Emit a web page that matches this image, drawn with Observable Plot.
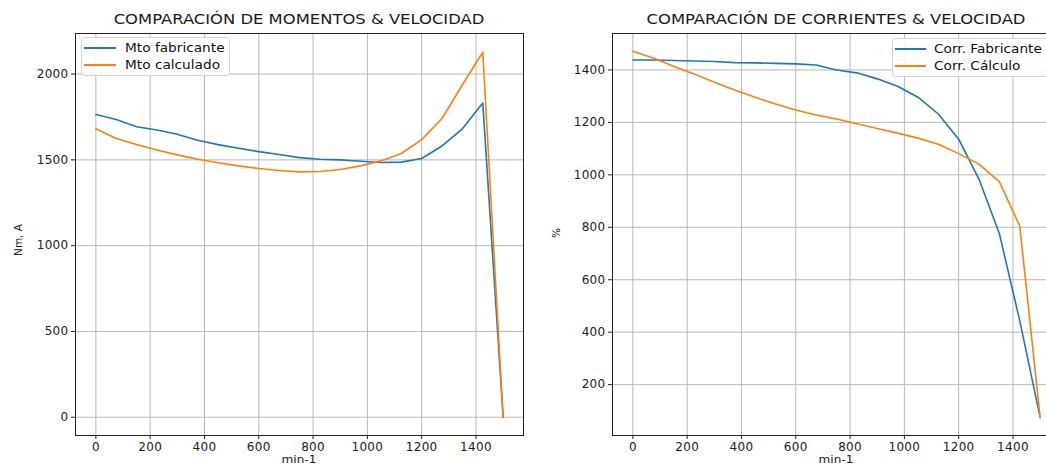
<!DOCTYPE html>
<html>
<head>
<meta charset="utf-8">
<script src="https://cdn.jsdelivr.net/npm/d3@7"></script>
<script src="https://cdn.jsdelivr.net/npm/@observablehq/plot@0.6"></script>
<style>
  html, body { margin: 0; padding: 0; width: 1046px; height: 465px; overflow: hidden; background: #fff; font-family: "DejaVu Sans", sans-serif; }
  #wrap { position: relative; width: 1046px; height: 465px; overflow: hidden; }
  .panel { position: absolute; top: 0; }
  .title { position: absolute; font-size: 14.5px; color: #1a1a1a; white-space: nowrap; transform: translateX(-50%) scaleX(1.13); }
  .xlabel { position: absolute; font-size: 11px; line-height: 11px; color: #222; white-space: nowrap; transform: translateX(-50%) scaleX(1.1); }
  .ylabel { position: absolute; font-size: 10.5px; color: #222; white-space: nowrap; transform: translate(-50%, -50%) rotate(-90deg); }
  .legend { position: absolute; background: rgba(255,255,255,0.85); border: 1px solid #d6d6d6; border-radius: 3px; padding: 2px 6px 2px 2px; font-size: 12px; color: #111; box-sizing: border-box; }
  .legend .row { display: flex; align-items: center; height: 16.7px; white-space: nowrap; }
  .legend .sw { height: 2px; flex: none; }
  .legend span { display: inline-block; transform-origin: left center; transform: scaleX(1.14); }
</style>
</head>
<body>
<div id="wrap"></div>
<script>
// ---- data ----
const speeds = [0, 75, 150, 225, 300, 375, 450, 525, 600, 675, 750, 825, 900, 975, 1050, 1125, 1200, 1275, 1350, 1425, 1500];
const mtoFabricante = [1764, 1735, 1693, 1674, 1649, 1614, 1589, 1568, 1548, 1531, 1513, 1504, 1500, 1492, 1485, 1487, 1508, 1581, 1681, 1832, 0];
const mtoCalculado  = [1681, 1624, 1589, 1558, 1529, 1504, 1483, 1465, 1450, 1438, 1430, 1432, 1444, 1465, 1494, 1537, 1618, 1741, 1938, 2127, 0];
const corrFabricante = [1438, 1438, 1436, 1434, 1432, 1428, 1427, 1425, 1423, 1419, 1400, 1389, 1366, 1338, 1296, 1232, 1136, 983, 775, 443, 75];
const corrCalculo    = [1471, 1446, 1414, 1385, 1353, 1324, 1296, 1270, 1247, 1228, 1213, 1195, 1177, 1159, 1140, 1117, 1081, 1041, 973, 805, 75];
const xTicks = [0, 200, 400, 600, 800, 1000, 1200, 1400];
const yTicksLeft = [0, 500, 1000, 1500, 2000];
const yTicksRight = [200, 400, 600, 800, 1000, 1200, 1400];
const leftTitle = "COMPARACIÓN DE MOMENTOS & VELOCIDAD";
const rightTitle = "COMPARACIÓN DE CORRIENTES & VELOCIDAD";
const leftSeries = ["Mto fabricante", "Mto calculado"];
const rightSeries = ["Corr. Fabricante", "Corr. Cálculo"];
const colors = ["#1f77b4", "#ff7f0e"];

function toRows(a, b) {
  return speeds.map((s, i) => ({speed: s, a: a[i], b: b[i]}));
}

function makePlot({rows, yDomain, yTicks, marginLeft, width}) {
  return Plot.plot({
    width, height: 465,
    marginTop: 33, marginBottom: 30, marginLeft, marginRight: 7,
    style: {fontFamily: "DejaVu Sans, sans-serif", fontSize: "12px", color: "#222", background: "transparent", letterSpacing: "0.3px"},
    x: {domain: [-75, 1575], label: null},
    y: {domain: yDomain, label: null},
    marks: [
      Plot.gridX(xTicks, {stroke: "#b0b0b0", strokeOpacity: 1, strokeWidth: 0.9}),
      Plot.gridY(yTicks, {stroke: "#b0b0b0", strokeOpacity: 1, strokeWidth: 0.9}),
      Plot.line(rows, {x: "speed", y: "a", stroke: colors[0], strokeWidth: 1.6}),
      Plot.line(rows, {x: "speed", y: "b", stroke: colors[1], strokeWidth: 1.6}),
      Plot.frame({stroke: "#222", strokeWidth: 1}),
      Plot.axisX(xTicks, {tickSize: 4, tickPadding: 3, label: null, stroke: "#222", tickFormat: d => String(d)}),
      Plot.axisY(yTicks, {tickSize: 4, tickPadding: 3, label: null, stroke: "#222", tickFormat: d => String(d)})
    ]
  });
}

const wrap = document.getElementById("wrap");

// left panel
const left = makePlot({rows: toRows(mtoFabricante, mtoCalculado), yDomain: [-106.5, 2236.5], yTicks: yTicksLeft, marginLeft: 75, width: 530});
left.classList.add("panel");
left.style.left = "0px";
wrap.appendChild(left);

// right panel
const right = makePlot({rows: toRows(corrFabricante, corrCalculo), yDomain: [6, 1539], yTicks: yTicksRight, marginLeft: 72, width: 527});
right.classList.add("panel");
right.style.left = "540px";
wrap.appendChild(right);

function addDiv(cls, text, styles) {
  const d = document.createElement("div");
  d.className = cls;
  d.textContent = text;
  Object.assign(d.style, styles);
  wrap.appendChild(d);
  return d;
}
addDiv("title", leftTitle, {left: "299px", top: "11px"});
addDiv("title", rightTitle, {left: "836px", top: "11px"});
addDiv("xlabel", "min-1", {left: "299px", top: "454px"});
addDiv("xlabel", "min-1", {left: "836px", top: "454px"});
addDiv("ylabel", "Nm, A", {left: "18px", top: "240px"});
addDiv("ylabel", "%", {left: "556px", top: "233px"});

function addLegend(names, styles, swW, gap) {
  const lg = document.createElement("div");
  lg.className = "legend";
  Object.assign(lg.style, styles);
  names.forEach((n, i) => {
    const r = document.createElement("div");
    r.className = "row";
    const sw = document.createElement("div");
    sw.className = "sw";
    sw.style.background = colors[i];
    sw.style.width = swW + "px";
    sw.style.marginRight = gap + "px";
    const t = document.createElement("span");
    t.textContent = n;
    r.appendChild(sw); r.appendChild(t);
    lg.appendChild(r);
  });
  wrap.appendChild(lg);
}
addLegend(leftSeries, {left: "81px", top: "37px", width: "149px"}, 32, 9);
addLegend(rightSeries, {left: "892px", top: "38px", width: "160px"}, 31, 8);
</script>
</body>
</html>
